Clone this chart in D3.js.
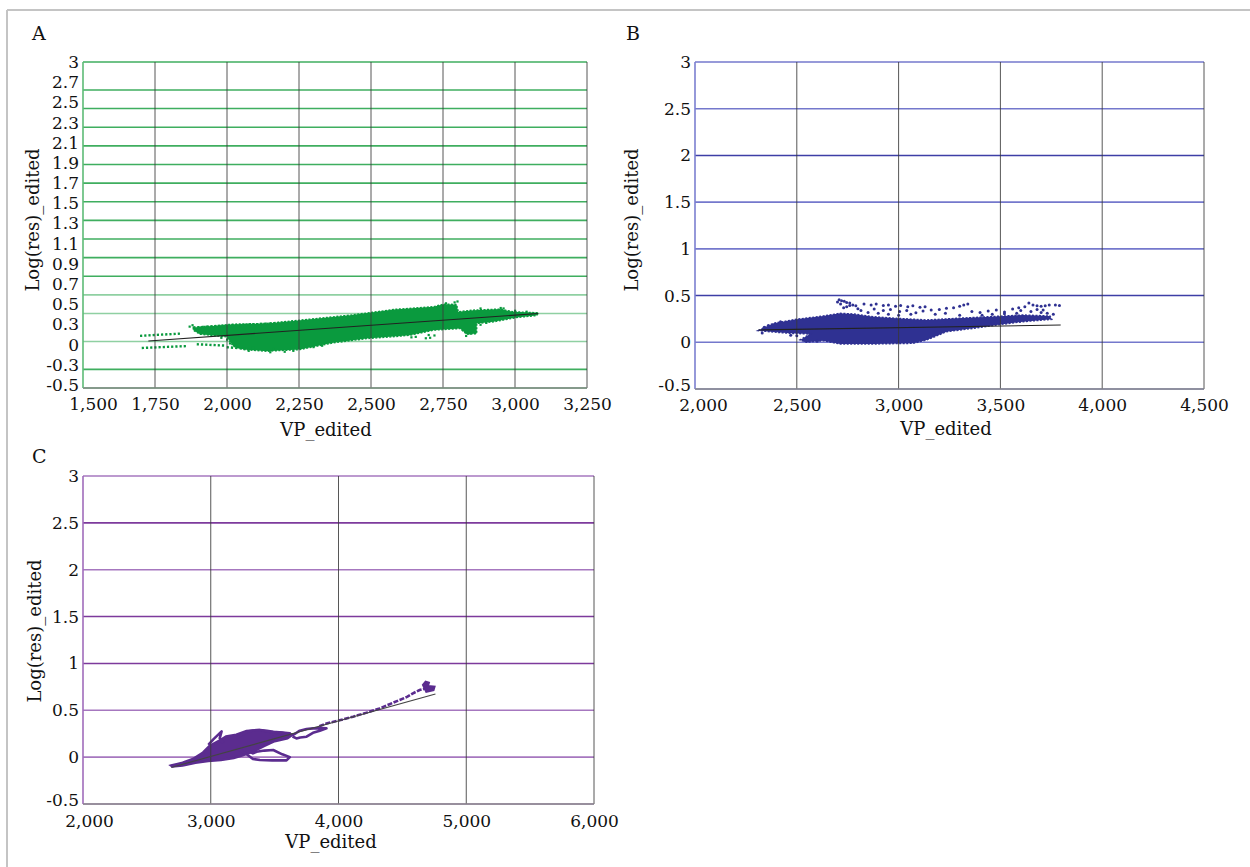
<!DOCTYPE html>
<html><head><meta charset="utf-8">
<script src="https://cdn.jsdelivr.net/npm/d3@7"></script>
<style>
body{margin:0;background:#fff}
svg{display:block}
</style>
</head><body>
<svg id="chart" width="1250" height="867"></svg>
<script>
// ---------------- DATA ----------------
const A_xTicks = [1500,1750,2000,2250,2500,2750,3000,3250];
const A_yTicks = [3,2.7,2.5,2.3,2.1,1.9,1.7,1.5,1.3,1.1,0.9,0.7,0.5,0.3,0,-0.3,-0.5];
const A_yLabels = ["3","2.7","2.5","2.3","2.1","1.9","1.7","1.5","1.3","1.1","0.9","0.7","0.5","0.3","0","-0.3","-0.5"];
const B_xTicks = [2000,2500,3000,3500,4000,4500];
const B_yTicks = [3,2.5,2,1.5,1,0.5,0,-0.5];
const C_xTicks = [2000,3000,4000,5000,6000];
const C_yTicks = [3,2.5,2,1.5,1,0.5,0,-0.5];

// Panel A (VP_edited, Log(res)_edited)
const A_cloud = [[1883,0.150],[2022,0.185],[2138,0.193],[2253,0.228],[2427,0.282],[2520,0.318],[2578,0.343],
  [2716,0.372],[2751,0.400],[2797,0.397],[2803,0.318],[2855,0.336],[2948,0.347],[2994,0.318],[3081,0.307],
  [3075,0.278],[3006,0.257],[2925,0.211],[2867,0.193],[2867,0.085],[2832,0.078],[2809,0.139],[2716,0.121],
  [2635,0.067],[2601,0.057],[2485,0.031],[2369,-0.015],[2253,-0.087],[2138,-0.105],[2057,-0.087],
  [2022,-0.051],[1999,0.049],[1906,0.078],[1883,0.121]];
const A_rows = [
  [[1698,0.060],[1843,0.085]],
  [[1704,-0.070],[1860,-0.050]],
  [[1895,-0.030],[1995,-0.045]],
  [[1999,-0.062],[2068,-0.078]],
  [[1883,0.150],[2200,0.200]]
];
const A_points = [[2010,-0.02],[2040,-0.06],[2075,-0.10],[2090,-0.07],[2150,-0.115],[2200,-0.11],[2230,-0.10],
  [2160,-0.08],[2000,0.02],[1980,0.04],[2640,0.045],[2655,0.05],[2700,0.07],[2720,0.065],[2830,0.06],
  [2845,0.085],[2850,0.10],[2860,0.09],[2880,0.18],[2900,0.20],[2800,0.43],[2790,0.42],[2760,0.41],
  [2880,0.355],[2950,0.36],[2960,0.355],[3000,0.33],[3040,0.32],[2690,0.035],[2705,0.04],[1880,0.175],
  [1870,0.16],[2300,-0.06],[2330,-0.045]];
const A_trend = [[1727,0.005],[3081,0.300]];

// Panel B
const B_cloud = [[2311,0.125],[2385,0.203],[2499,0.246],[2630,0.281],[2712,0.310],[2778,0.303],[2876,0.274],
  [2990,0.256],[3138,0.239],[3285,0.256],[3449,0.274],[3612,0.292],[3743,0.281],[3752,0.246],[3612,0.221],
  [3481,0.185],[3367,0.150],[3236,0.114],[3138,0.025],[3072,-0.011],[2876,-0.018],[2712,-0.018],
  [2630,0.017],[2548,0.000],[2516,0.025],[2565,0.089],[2467,0.096],[2385,0.110]];
const B_points = [[2708,0.455],[2720,0.445],[2733,0.44],[2745,0.425],[2760,0.42],[2775,0.40],[2790,0.39],
  [2760,0.395],[2745,0.38],[2730,0.37],[2800,0.36],[2815,0.34],[2700,0.43],[2715,0.41],
  [2830,0.41],[2865,0.40],[2890,0.41],[2925,0.395],[2950,0.40],[2985,0.385],[3010,0.395],[3045,0.38],
  [3070,0.39],[3105,0.375],[3130,0.38],[2850,0.32],[2900,0.31],[2950,0.30],[3000,0.29],[3060,0.30],
  [2880,0.355],[2925,0.34],[2960,0.35],[3005,0.33],[3040,0.34],[3085,0.315],[3120,0.335],[3160,0.345],
  [3200,0.35],[3235,0.365],[3270,0.37],[3300,0.385],[3320,0.40],[3340,0.41],[3180,0.30],[3230,0.31],
  [3360,0.33],[3400,0.32],[3440,0.335],[3480,0.345],[3520,0.325],[3560,0.355],[3590,0.37],[3620,0.38],
  [3640,0.42],[3660,0.40],[3680,0.39],[3700,0.385],[3720,0.39],[3740,0.40],[3770,0.40],[3790,0.395],
  [3600,0.34],[3650,0.33],[3700,0.32],[3730,0.31],[3760,0.30],[3460,0.30],[3520,0.305],[3300,0.29],
  [3410,0.29],[3580,0.31],[3680,0.35],[3710,0.345],
  [2340,0.16],[2360,0.18],[2330,0.10],[2420,0.22],[2470,0.075],[2500,0.07],[2540,0.02],[2600,0.01]];
const B_trend = [[2312,0.132],[3796,0.185]];

// Panel C
const C_knot = [[2690,-0.09],[2780,-0.06],[2860,-0.02],[2940,0.05],[2990,0.12],[3060,0.17],[3120,0.22],
  [3200,0.24],[3280,0.28],[3380,0.29],[3450,0.27],[3560,0.26],[3640,0.24],[3600,0.20],[3500,0.17],
  [3420,0.12],[3330,0.06],[3250,0.02],[3180,-0.01],[3080,-0.03],[2980,-0.04],[2880,-0.06],[2780,-0.09],[2700,-0.10]];
const C_spike = [[2981,0.13],[3020,0.19],[3085,0.275],[3070,0.20],[3100,0.15]];
const C_upperLoop = [[3200,0.20],[3281,0.27],[3330,0.285],[3385,0.29],[3440,0.28],[3489,0.27],[3560,0.262],
  [3619,0.254],[3560,0.23],[3480,0.22]];
const C_lowerLoop = [[3200,0.10],[3281,0.03],[3330,-0.02],[3385,-0.03],[3480,-0.035],[3593,-0.035],[3619,0.00],
  [3560,0.03],[3489,0.076],[3420,0.07],[3359,0.058],[3330,0.04],[3300,0.06]];
const C_rightLoop = [[3620,0.24],[3645,0.236],[3697,0.282],[3750,0.30],[3802,0.307],[3870,0.31],[3906,0.307],
  [3854,0.282],[3800,0.26],[3750,0.218],[3700,0.21],[3671,0.20],[3640,0.22]];
const C_streak = [[3850,0.33],[3906,0.36],[4000,0.39],[4114,0.432],[4220,0.475],[4322,0.52],[4400,0.565],
  [4479,0.61],[4540,0.645],[4583,0.681],[4635,0.716],[4687,0.734]];
const C_tip = [[4661,0.77],[4682,0.805],[4708,0.795],[4700,0.759],[4752,0.752],[4744,0.716],[4687,0.698]];
const C_trend = [[2691,-0.11],[4759,0.674]];

// ---------------- DRAW ----------------
const FONT = "'DejaVu Serif', serif";
const svg = d3.select("#chart");

// outer frame
svg.append("line").attr("x1",7).attr("x2",1250).attr("y1",10).attr("y2",10).attr("stroke","#c4c4c4").attr("stroke-width",2);
svg.append("line").attr("x1",7).attr("x2",7).attr("y1",10).attr("y2",867).attr("stroke","#c4c4c4").attr("stroke-width",2);

function panel(cfg){
  const g = svg.append("g");
  const x = d3.scaleLinear().domain(cfg.xDom).range([cfg.l, cfg.r]);
  const y = d3.scaleLinear().domain([-0.5,3]).range([cfg.b, cfg.t]);
  const line = d3.line().x(d=>x(d[0])).y(d=>y(d[1]));
  const closed = d3.line().x(d=>x(d[0])).y(d=>y(d[1])).curve(d3.curveLinearClosed);

  // horizontal gridlines
  g.selectAll(".hg").data(cfg.yTicks).join("line")
    .attr("x1",cfg.l).attr("x2",cfg.r).attr("y1",d=>y(d)).attr("y2",d=>y(d))
    .attr("stroke",d=>cfg.hColor(d)).attr("stroke-width",1.6);

  // data
  cfg.drawData(g, x, y, line, closed);

  // vertical gridlines
  g.selectAll(".vg").data(cfg.xTicks.slice(1)).join("line")
    .attr("x1",d=>x(d)).attr("x2",d=>x(d)).attr("y1",cfg.t).attr("y2",cfg.b)
    .attr("stroke","#3a3a3a").attr("stroke-width",1).attr("opacity",0.85);

  // axis lines
  g.append("line").attr("x1",cfg.l).attr("x2",cfg.l).attr("y1",cfg.t).attr("y2",cfg.b)
    .attr("stroke",cfg.axisColor).attr("stroke-width",1.6);
  g.append("line").attr("x1",cfg.l).attr("x2",cfg.r).attr("y1",cfg.b).attr("y2",cfg.b)
    .attr("stroke","#8c8c8c").attr("stroke-width",1.6);

  // trend line
  g.append("path").attr("d",line(cfg.trend)).attr("fill","none").attr("stroke",cfg.trendColor).attr("stroke-width",1.1);

  // x axis labels
  const xa = g.append("g").attr("transform",`translate(0,${cfg.b})`)
    .call(d3.axisBottom(x).tickValues(cfg.xTicks).tickFormat(d3.format(",")).tickSize(0).tickPadding(cfg.xPad));
  xa.select(".domain").remove();
  xa.attr("font-family",FONT).attr("font-size",17).attr("color","#111");
  xa.selectAll(".tick text").filter((d,i)=>i===0).attr("dx",cfg.firstDx);

  // y axis labels
  const ys = cfg.yLabels ? d3.scalePoint().domain(cfg.yLabels).range([cfg.t, cfg.b - 3]) : y;
  const ya = g.append("g").attr("transform",`translate(${cfg.l},0)`)
    .call(cfg.yLabels ? d3.axisLeft(ys).tickSize(0).tickPadding(4)
                      : d3.axisLeft(ys).tickValues(cfg.yTicks).tickFormat(d=>String(d)).tickSize(0).tickPadding(4));
  ya.select(".domain").remove();
  ya.attr("font-family",FONT).attr("font-size",17).attr("color","#111");
  if(!cfg.yLabels) ya.selectAll(".tick text").filter(d=>String(d)==="-0.5").attr("dy","0.1em");

  // titles
  g.append("text").attr("x",cfg.letter[0]).attr("y",cfg.letter[1]).text(cfg.id)
    .attr("font-family",FONT).attr("font-size",19).attr("fill","#111");
  g.append("text").attr("x",cfg.xTitle[0]).attr("y",cfg.xTitle[1]).attr("text-anchor","middle").text("VP_edited")
    .attr("font-family",FONT).attr("font-size",18).attr("fill","#111");
  g.append("text").attr("transform",`translate(${cfg.yTitle[0]},${cfg.yTitle[1]}) rotate(-90)`)
    .attr("text-anchor","middle").attr("dy","0.35em").text("Log(res)_edited")
    .attr("font-family",FONT).attr("font-size",18).attr("fill","#111");
}

// Panel A
panel({
  id:"A", l:83, r:587, t:62, b:388, xDom:[1500,3250], xTicks:A_xTicks, yTicks:A_yTicks, yLabels:A_yLabels,
  xPad:10, firstDx:10, axisColor:"#5dbb76", trendColor:"#222", trend:A_trend,
  hColor:d => ([0.5,0.3,0].includes(d) ? "#8fd0a2" : "#3fae5f"),
  letter:[32,40], xTitle:[326,436], yTitle:[33,220],
  drawData:(g,x,y,line,closed)=>{
    const c = "#0a9a3e";
    g.append("path").attr("d",closed(A_cloud)).attr("fill",c).attr("stroke",c).attr("stroke-width",1.5)
      .attr("stroke-dasharray","2,1.5");
    g.selectAll(".row").data(A_rows).join("path").attr("d",d=>line(d)).attr("fill","none")
      .attr("stroke",c).attr("stroke-width",2.4).attr("stroke-dasharray","2.2,2");
    g.selectAll(".pt").data(A_points).join("rect").attr("x",d=>x(d[0])-1).attr("y",d=>y(d[1])-1)
      .attr("width",2.2).attr("height",2.2).attr("fill",c);
  }
});

// Panel B
panel({
  id:"B", l:695, r:1204, t:62, b:389, xDom:[2000,4500], xTicks:B_xTicks, yTicks:B_yTicks,
  xPad:10, firstDx:8, axisColor:"#7b7fd0", trendColor:"#222", trend:B_trend,
  hColor:d => ([2,0.5].includes(d) ? "#3d3fa6" : "#7478cc"),
  letter:[626,40], xTitle:[946,435], yTitle:[632,220],
  drawData:(g,x,y,line,closed)=>{
    const c = "#2f3192";
    g.append("path").attr("d",closed(B_cloud)).attr("fill",c).attr("stroke",c).attr("stroke-width",1.5)
      .attr("stroke-dasharray","2,1.5");
    g.selectAll(".pt").data(B_points).join("circle").attr("cx",d=>x(d[0])).attr("cy",d=>y(d[1]))
      .attr("r",1.5).attr("fill",c);
  }
});

// Panel C
panel({
  id:"C", l:83, r:594, t:476, b:804, xDom:[2000,6000], xTicks:C_xTicks, yTicks:C_yTicks,
  xPad:11, firstDx:6, axisColor:"#a06cbb", trendColor:"#444", trend:C_trend,
  hColor:d => ([2.5,1.5,1].includes(d) ? "#7d3a9c" : "#a677bf"),
  letter:[32,463], xTitle:[331,848], yTitle:[35,631],
  drawData:(g,x,y,line,closed)=>{
    const c = "#5b2c8f";
    g.append("path").attr("d",closed(C_knot)).attr("fill",c).attr("stroke",c).attr("stroke-width",2.5);
    [C_spike,C_upperLoop,C_lowerLoop,C_rightLoop].forEach(p=>{
      g.append("path").attr("d",line(p)).attr("fill","none").attr("stroke",c).attr("stroke-width",2.6)
        .attr("stroke-linejoin","round");
    });
    g.append("path").attr("d",line(C_streak)).attr("fill","none").attr("stroke",c).attr("stroke-width",2.6)
      .attr("stroke-dasharray","5,1.5");
    g.append("path").attr("d",closed(C_tip)).attr("fill",c).attr("stroke",c).attr("stroke-width",2);
  }
});
</script>
</body></html>
